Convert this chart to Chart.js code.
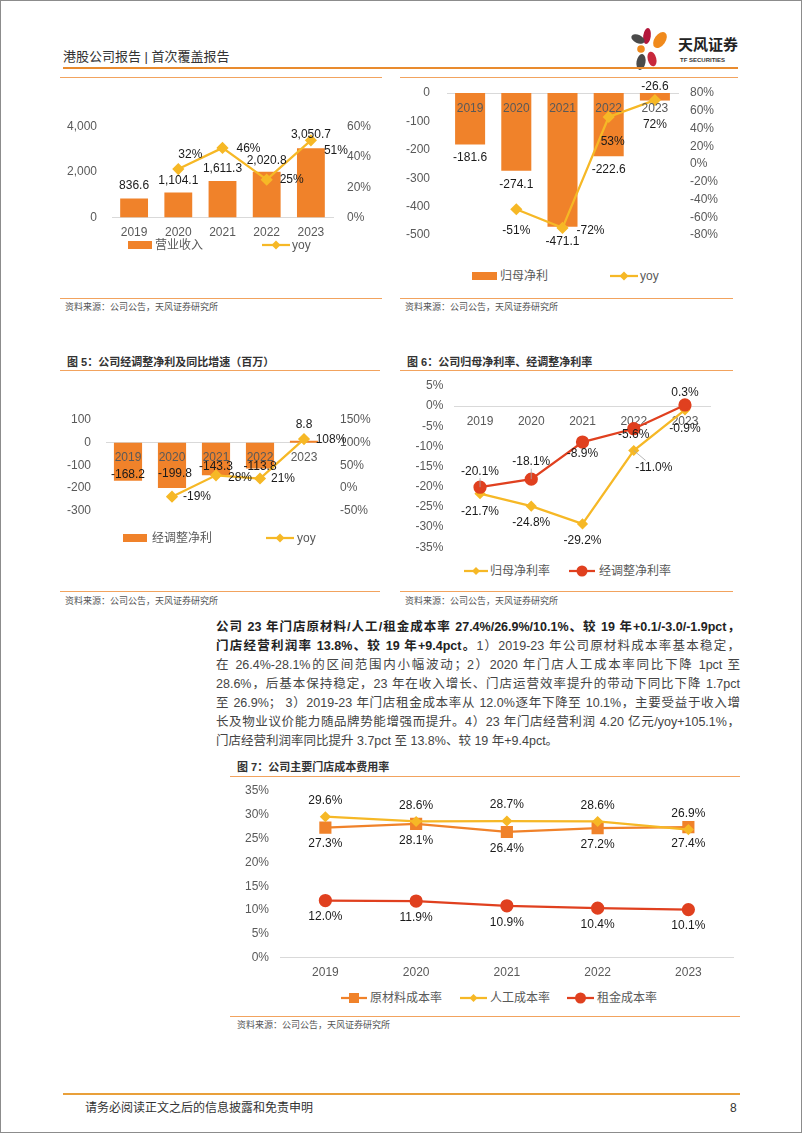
<!DOCTYPE html>
<html>
<head>
<meta charset="utf-8">
<script src="https://cdn.jsdelivr.net/npm/chart.js"></script>
<style>
  html, body { margin: 0; padding: 0; background: #fff; }
  body { width: 802px; height: 1133px; position: relative; overflow: hidden;
         font-family: "Liberation Sans", "Noto Sans CJK SC", sans-serif; color: #333; }
  .frame { position: absolute; left: 0; top: 0; width: 800px; height: 1131px; border: 1px solid #8c8c8c; }
  .abs { position: absolute; white-space: nowrap; }
  .hl { position: absolute; height: 0; border-top: 1.5px solid #F2A35E; }
  .ttl { position: absolute; font-size: 11px; line-height: 12px; font-weight: bold; color: #333; white-space: nowrap; }
  .src { position: absolute; font-size: 9px; line-height: 10px; color: #555; white-space: nowrap; }
  .lg { position: absolute; font-size: 12px; line-height: 14px; color: #595959; white-space: nowrap; }
  .box { position: absolute; width: 24px; height: 8px; background: #F0822A; }
  .pl { position: absolute; left: 216px; width: 524px; font-size: 12.5px; line-height: 19px; color: #444;
        white-space: nowrap; text-align: justify; text-align-last: justify; }
  .pl b { color: #222; }
  canvas { position: absolute; }
</style>
</head>
<body>
<div class="frame"></div>

<!-- header -->
<div class="abs" style="left:63px;top:50px;font-size:13px;line-height:14px;color:#333;">港股公司报告 | 首次覆盖报告</div>
<svg class="abs" style="left:630px;top:25px;" width="46" height="48" viewBox="0 0 46 48">
  <ellipse cx="17" cy="11" rx="3.8" ry="8" fill="#B3173B" transform="rotate(8 17 11)"/>
  <ellipse cx="30" cy="15" rx="5.5" ry="9" fill="#F08A1C" transform="rotate(35 30 15)"/>
  <ellipse cx="8" cy="14" rx="7" ry="4.2" fill="#4A4A4A" transform="rotate(25 8 14)"/>
  <ellipse cx="11" cy="24" rx="3.8" ry="3.8" fill="#F08A1C"/>
  <ellipse cx="11" cy="37" rx="4.5" ry="8" fill="#4A4A4A" transform="rotate(10 11 37)"/>
  <ellipse cx="22" cy="34" rx="4.3" ry="7.5" fill="#C8283C" transform="rotate(-15 22 34)"/>
</svg>
<div class="abs" style="left:678px;top:37px;font-size:15px;line-height:16px;font-weight:bold;color:#222;">天风证券</div>
<div class="abs" style="left:680px;top:57px;font-size:6px;line-height:7px;font-weight:bold;color:#333;">TF SECURITIES</div>
<div class="hl" style="left:63px;top:67px;width:675px;border-top:2px solid #E98B2E;"></div>
<div class="hl" style="left:60px;top:77px;width:322px;"></div>
<div class="hl" style="left:400px;top:77px;width:338px;"></div>

<!-- chart 1 -->
<canvas id="c1" width="330" height="137" style="left:60px;top:110px;"></canvas>
<div class="box" style="left:128px;top:241px;"></div>
<div class="lg" style="left:155px;top:238px;">营业收入</div>
<svg class="abs" style="left:262px;top:240px;" width="28" height="10"><line x1="0" y1="5" x2="28" y2="5" stroke="#F6B826" stroke-width="2.25"/><polygon points="14,0.5 18.5,5 14,9.5 9.5,5" fill="#F6B826"/></svg>
<div class="lg" style="left:292px;top:238px;">yoy</div>
<div class="hl" style="left:60px;top:298px;width:322px;"></div>
<div class="src" style="left:65px;top:302px;">资料来源：公司公告，天风证券研究所</div>

<!-- chart 2 -->
<canvas id="c2" width="340" height="170" style="left:400px;top:80px;"></canvas>
<div class="box" style="left:472px;top:272px;width:25px;"></div>
<div class="lg" style="left:500px;top:269px;">归母净利</div>
<svg class="abs" style="left:610px;top:271px;" width="28" height="10"><line x1="0" y1="5" x2="28" y2="5" stroke="#F6B826" stroke-width="2.25"/><polygon points="14,0.5 18.5,5 14,9.5 9.5,5" fill="#F6B826"/></svg>
<div class="lg" style="left:640px;top:269px;">yoy</div>
<div class="hl" style="left:400px;top:298px;width:333px;"></div>
<div class="src" style="left:405px;top:302px;">资料来源：公司公告，天风证券研究所</div>

<!-- figure 5 -->
<div class="ttl" style="left:67px;top:356px;">图 5：公司经调整净利及同比增速（百万）</div>
<div class="hl" style="left:60px;top:370px;width:320px;"></div>
<canvas id="c3" width="330" height="135" style="left:60px;top:400px;"></canvas>
<div class="box" style="left:123px;top:534px;"></div>
<div class="lg" style="left:152px;top:531px;">经调整净利</div>
<svg class="abs" style="left:266px;top:533px;" width="28" height="10"><line x1="0" y1="5" x2="28" y2="5" stroke="#F6B826" stroke-width="2.25"/><polygon points="14,0.5 18.5,5 14,9.5 9.5,5" fill="#F6B826"/></svg>
<div class="lg" style="left:297px;top:531px;">yoy</div>
<div class="hl" style="left:60px;top:591px;width:320px;"></div>
<div class="src" style="left:65px;top:596px;">资料来源：公司公告，天风证券研究所</div>

<!-- figure 6 -->
<div class="ttl" style="left:407px;top:356px;">图 6：公司归母净利率、经调整净利率</div>
<div class="hl" style="left:400px;top:370px;width:333px;"></div>
<canvas id="c4" width="340" height="180" style="left:400px;top:376px;"></canvas>
<svg class="abs" style="left:464px;top:566px;" width="24" height="10"><line x1="0" y1="5" x2="24" y2="5" stroke="#F6B826" stroke-width="2.25"/><polygon points="12,1 16,5 12,9 8,5" fill="#F6B826"/></svg>
<div class="lg" style="left:490px;top:564px;">归母净利率</div>
<svg class="abs" style="left:569px;top:565px;" width="26" height="12"><line x1="0" y1="6" x2="26" y2="6" stroke="#E0401F" stroke-width="2.25"/><circle cx="13" cy="6" r="5.5" fill="#E0401F"/></svg>
<div class="lg" style="left:599px;top:564px;">经调整净利率</div>
<div class="hl" style="left:400px;top:591px;width:333px;"></div>
<div class="src" style="left:405px;top:596px;">资料来源：公司公告，天风证券研究所</div>

<!-- paragraph -->
<div class="pl" style="top:618px;"><b>公司 23 年门店原材料/人工/租金成本率 27.4%/26.9%/10.1%、较 19 年+0.1/-3.0/-1.9pct，</b></div>
<div class="pl" style="top:637px;"><b>门店经营利润率 13.8%、较 19 年+9.4pct。</b>1）2019-23 年公司原材料成本率基本稳定，</div>
<div class="pl" style="top:656px;">在 26.4%-28.1%的区间范围内小幅波动；2）2020 年门店人工成本率同比下降 1pct 至</div>
<div class="pl" style="top:675px;">28.6%，后基本保持稳定，23 年在收入增长、门店运营效率提升的带动下同比下降 1.7pct</div>
<div class="pl" style="top:694px;">至 26.9%； 3）2019-23 年门店租金成本率从 12.0%逐年下降至 10.1%，主要受益于收入增</div>
<div class="pl" style="top:713px;">长及物业议价能力随品牌势能增强而提升。4）23 年门店经营利润 4.20 亿元/yoy+105.1%，</div>
<div class="pl" style="top:732px;text-align:left;text-align-last:left;">门店经营利润率同比提升 3.7pct 至 13.8%、较 19 年+9.4pct。</div>

<!-- figure 7 -->
<div class="ttl" style="left:237px;top:761px;">图 7：公司主要门店成本费用率</div>
<div class="hl" style="left:230px;top:776px;width:510px;"></div>
<canvas id="c5" width="523" height="200" style="left:220px;top:780px;"></canvas>
<svg class="abs" style="left:341px;top:992px;" width="26" height="12"><line x1="0" y1="6" x2="26" y2="6" stroke="#F0822A" stroke-width="2.25"/><rect x="8" y="1" width="10" height="10" fill="#F0822A"/></svg>
<div class="lg" style="left:370px;top:991px;">原材料成本率</div>
<svg class="abs" style="left:460px;top:993px;" width="27" height="10"><line x1="0" y1="5" x2="27" y2="5" stroke="#F6B826" stroke-width="2.25"/><polygon points="13.5,1 17.5,5 13.5,9 9.5,5" fill="#F6B826"/></svg>
<div class="lg" style="left:490px;top:991px;">人工成本率</div>
<svg class="abs" style="left:567px;top:992px;" width="27" height="12"><line x1="0" y1="6" x2="27" y2="6" stroke="#E0401F" stroke-width="2.25"/><circle cx="13.5" cy="6" r="5.5" fill="#E0401F"/></svg>
<div class="lg" style="left:597px;top:991px;">租金成本率</div>
<div class="hl" style="left:230px;top:1016px;width:510px;"></div>
<div class="src" style="left:237px;top:1020px;">资料来源：公司公告，天风证券研究所</div>

<!-- footer -->
<div class="hl" style="left:63px;top:1093px;width:677px;border-top:2px solid #E9A03A;"></div>
<div class="abs" style="left:85px;top:1101px;font-size:12px;line-height:14px;color:#333;">请务必阅读正文之后的信息披露和免责申明</div>
<div class="abs" style="left:730px;top:1101px;font-size:12px;line-height:14px;color:#333;">8</div>

<script>
// data
const years = ['2019', '2020', '2021', '2022', '2023'];

const revenue = [836.6, 1104.1, 1611.3, 2020.8, 3050.7];
const revenueYoy = [null, 32, 46, 25, 51];
const revenueTicks = [0, 2000, 4000];
const revenueYoyTicks = [0, 20, 40, 60];

const netProfit = [-181.6, -274.1, -471.1, -222.6, -26.6];
const netProfitYoy = [null, -51, -72, 53, 72];
const netProfitTicks = [-500, -400, -300, -200, -100, 0];
const netProfitYoyTicks = [-80, -60, -40, -20, 0, 20, 40, 60, 80];

const adjProfit = [-168.2, -199.8, -143.3, -113.8, 8.8];
const adjProfitYoy = [null, -19, 28, 21, 108];
const adjProfitTicks = [-300, -200, -100, 0, 100];
const adjProfitYoyTicks = [-50, 0, 50, 100, 150];

const netMargin = [-21.7, -24.8, -29.2, -11.0, -0.9];
const adjMargin = [-20.1, -18.1, -8.9, -5.6, 0.3];
const marginTicks = [-35, -30, -25, -20, -15, -10, -5, 0, 5];

const materialRate = [27.3, 28.1, 26.4, 27.2, 27.4];
const laborRate = [29.6, 28.6, 28.7, 28.6, 26.9];
const rentRate = [12.0, 11.9, 10.9, 10.4, 10.1];
const costTicks = [0, 5, 10, 15, 20, 25, 30, 35];

const BAR = '#F0822A';
const GOLD = '#F6B826';
const RED = '#E0401F';
const GREY = '#595959';

Chart.defaults.font.family = '"Liberation Sans", "Noto Sans CJK SC", sans-serif';
Chart.defaults.font.size = 12;
Chart.defaults.animation = false;

// draws value labels next to each point / bar end
const valueLabels = {
  id: 'valueLabels',
  afterDatasetsDraw(chart) {
    const ctx = chart.ctx;
    chart.data.datasets.forEach((ds, i) => {
      if (!ds.fmt) return;
      const meta = chart.getDatasetMeta(i);
      meta.data.forEach((el, j) => {
        const v = ds.data[j];
        if (v === null || v === undefined) return;
        const dx = Array.isArray(ds.labelDx) ? ds.labelDx[j] : (ds.labelDx || 0);
        const dy = Array.isArray(ds.labelDy) ? ds.labelDy[j] : (ds.labelDy || 0);
        ctx.save();
        if (ds.leader && ds.leader[j]) {
          ctx.strokeStyle = '#A6A6A6';
          ctx.lineWidth = 0.8;
          ctx.beginPath();
          ctx.moveTo(el.x, el.y);
          ctx.lineTo(el.x + dx * 0.6, el.y + dy - Math.sign(dy) * 7);
          ctx.stroke();
        }
        ctx.font = '12px "Liberation Sans", "Noto Sans CJK SC", sans-serif';
        ctx.fillStyle = '#1a1a1a';
        ctx.textAlign = 'center';
        ctx.textBaseline = 'middle';
        ctx.fillText(ds.fmt(v), el.x + dx, el.y + dy);
        ctx.restore();
      });
    });
  }
};

const thousands = v => v.toLocaleString('en-US', { minimumFractionDigits: 1, maximumFractionDigits: 1 });
const pct0 = v => v + '%';
const pct1 = v => v.toFixed(1) + '%';

function yAxis(pos, ticks, fmt, width, pad) {
  return {
    position: pos,
    min: ticks[0],
    max: ticks[ticks.length - 1],
    afterBuildTicks: s => { s.ticks = ticks.map(v => ({ value: v })); },
    // pin the axis width and stop it from pushing the plot area down
    afterFit: s => { s.width = width; s.paddingTop = 0; s.paddingBottom = 0; },
    grid: { display: false, drawTicks: false },
    border: { display: false },
    ticks: { color: GREY, padding: pad, callback: fmt, autoSkip: false }
  };
}

function xAxis(onTop) {
  return {
    type: 'category',
    position: { y: 0 },
    offset: true,
    grid: { display: false, drawTicks: false },
    border: { display: true, color: '#D9D9D9', width: 1 },
    ticks: { color: GREY, padding: 8, maxRotation: 0, autoSkip: false, z: onTop ? 1 : 0 }
  };
}

function comboChart(id, opt) {
  new Chart(document.getElementById(id), {
    type: 'bar',
    data: {
      labels: years,
      datasets: [
        {
          type: 'line', label: 'yoy', data: opt.yoy, yAxisID: 'y1', order: 0,
          borderColor: GOLD, backgroundColor: GOLD, borderWidth: 2.25,
          pointStyle: 'rectRot', pointRadius: 4.5, pointHoverRadius: 4.5,
          fmt: pct0, labelDx: opt.yoyDx, labelDy: opt.yoyDy
        },
        {
          label: opt.name, data: opt.bars, yAxisID: 'y', order: 1,
          backgroundColor: BAR, categoryPercentage: 1, barPercentage: opt.barPct,
          fmt: opt.barFmt, labelDx: opt.barDx, labelDy: opt.barDy
        }
      ]
    },
    options: {
      responsive: false,
      layout: { padding: opt.padding },
      plugins: { legend: { display: false }, tooltip: { enabled: false } },
      scales: {
        x: xAxis(opt.labelsOnTop),
        y: yAxis('left', opt.ticks, opt.tickFmt, opt.leftW, opt.leftPad),
        y1: yAxis('right', opt.yoyTicks, pct0, opt.rightW, opt.rightPad)
      }
    },
    plugins: [valueLabels]
  });
}

// chart 1: revenue
comboChart('c1', {
  name: '营业收入', bars: revenue, yoy: revenueYoy,
  ticks: revenueTicks, yoyTicks: revenueYoyTicks,
  tickFmt: v => v.toLocaleString('en-US'),
  barFmt: thousands, barPct: 0.63,
  barDx: 0, barDy: [-13, -12, -12, -11, -14],
  yoyDx: [0, 12, 26, 25, 25], yoyDy: [0, -14, 1, 0, 10],
  padding: { top: 16.7, bottom: 29.5, left: 0, right: 0 },
  leftW: 52, leftPad: 15, rightW: 57, rightPad: 14
});

// chart 2: net profit
comboChart('c2', {
  name: '归母净利', bars: netProfit, yoy: netProfitYoy,
  ticks: netProfitTicks, yoyTicks: netProfitYoyTicks,
  tickFmt: v => String(v),
  barFmt: v => v.toFixed(1), barPct: 0.65, labelsOnTop: true,
  barDx: 0, barDy: [13, 14, 15, 13, -14],
  yoyDx: [0, 0, 28, 4, 0], yoyDy: [0, 21, 3, 25, 25],
  padding: { top: 13, bottom: 15, left: 0, right: 0 },
  leftW: 47, leftPad: 17, rightW: 62, rightPad: 12
});

// chart 3: adjusted net profit
comboChart('c3', {
  name: '经调整净利', bars: adjProfit, yoy: adjProfitYoy,
  ticks: adjProfitTicks, yoyTicks: adjProfitYoyTicks,
  tickFmt: v => String(v),
  barFmt: v => v.toFixed(1), barPct: 0.64, labelsOnTop: true,
  barDx: [0, 3, 0, 0, 0], barDy: [-6.5, -14, -8.5, -2, -16],
  yoyDx: [0, 25, 24, 23, 27], yoyDy: [0, 0, 2, 0, 1],
  padding: { top: 20, bottom: 24.3, left: 0, right: 0 },
  leftW: 46, leftPad: 15, rightW: 64, rightPad: 14
});

function lineSet(label, data, color, style, radius, dx, dy, leader) {
  return {
    label: label, data: data, borderColor: color, backgroundColor: color,
    borderWidth: 2.25, pointStyle: style, pointRadius: radius, pointHoverRadius: radius,
    pointBackgroundColor: color, pointBorderColor: color,
    fmt: pct1, labelDx: dx, labelDy: dy, leader: leader
  };
}

// chart 4: margins
new Chart(document.getElementById('c4'), {
  type: 'line',
  data: {
    labels: years,
    datasets: [
      lineSet('经调整净利率', adjMargin, RED, 'circle', 5.5, 0, [-16, -17.5, 12, 6, -12], [true, true, false, false, false]),
      lineSet('归母净利率', netMargin, GOLD, 'rectRot', 4, [0, 0, 0, 20, 0], [18, 16.5, 17, 17, 18.5], [false, false, false, true, false])
    ]
  },
  options: {
    responsive: false,
    layout: { padding: { top: 10, bottom: 8.7, left: 0, right: 29.4 } },
    plugins: { legend: { display: false }, tooltip: { enabled: false } },
    scales: {
      x: xAxis(false),
      y: yAxis('left', marginTicks, pct0, 54.4, 11)
    }
  },
  plugins: [valueLabels]
});

// chart 5: store cost ratios
new Chart(document.getElementById('c5'), {
  type: 'line',
  data: {
    labels: years,
    datasets: [
      lineSet('人工成本率', laborRate, GOLD, 'rectRot', 4, 0, -16),
      lineSet('原材料成本率', materialRate, BAR, 'rect', 7, 0, 16.5),
      lineSet('租金成本率', rentRate, RED, 'circle', 5.5, 0, 16.5)
    ]
  },
  options: {
    responsive: false,
    layout: { padding: { top: 11, bottom: 22.3, left: 0, right: 0.5 } },
    plugins: { legend: { display: false }, tooltip: { enabled: false } },
    scales: {
      x: xAxis(false),
      y: yAxis('left', costTicks, pct0, 60, 11)
    }
  },
  plugins: [valueLabels]
});

// squeeze paragraph lines that run past the column
document.querySelectorAll('.pl').forEach(line => {
  const w = line.scrollWidth;
  if (w > 524) {
    const n = line.textContent.length;
    line.style.letterSpacing = ((524 - w) / n) + 'px';
  }
});
</script>
</body>
</html>
